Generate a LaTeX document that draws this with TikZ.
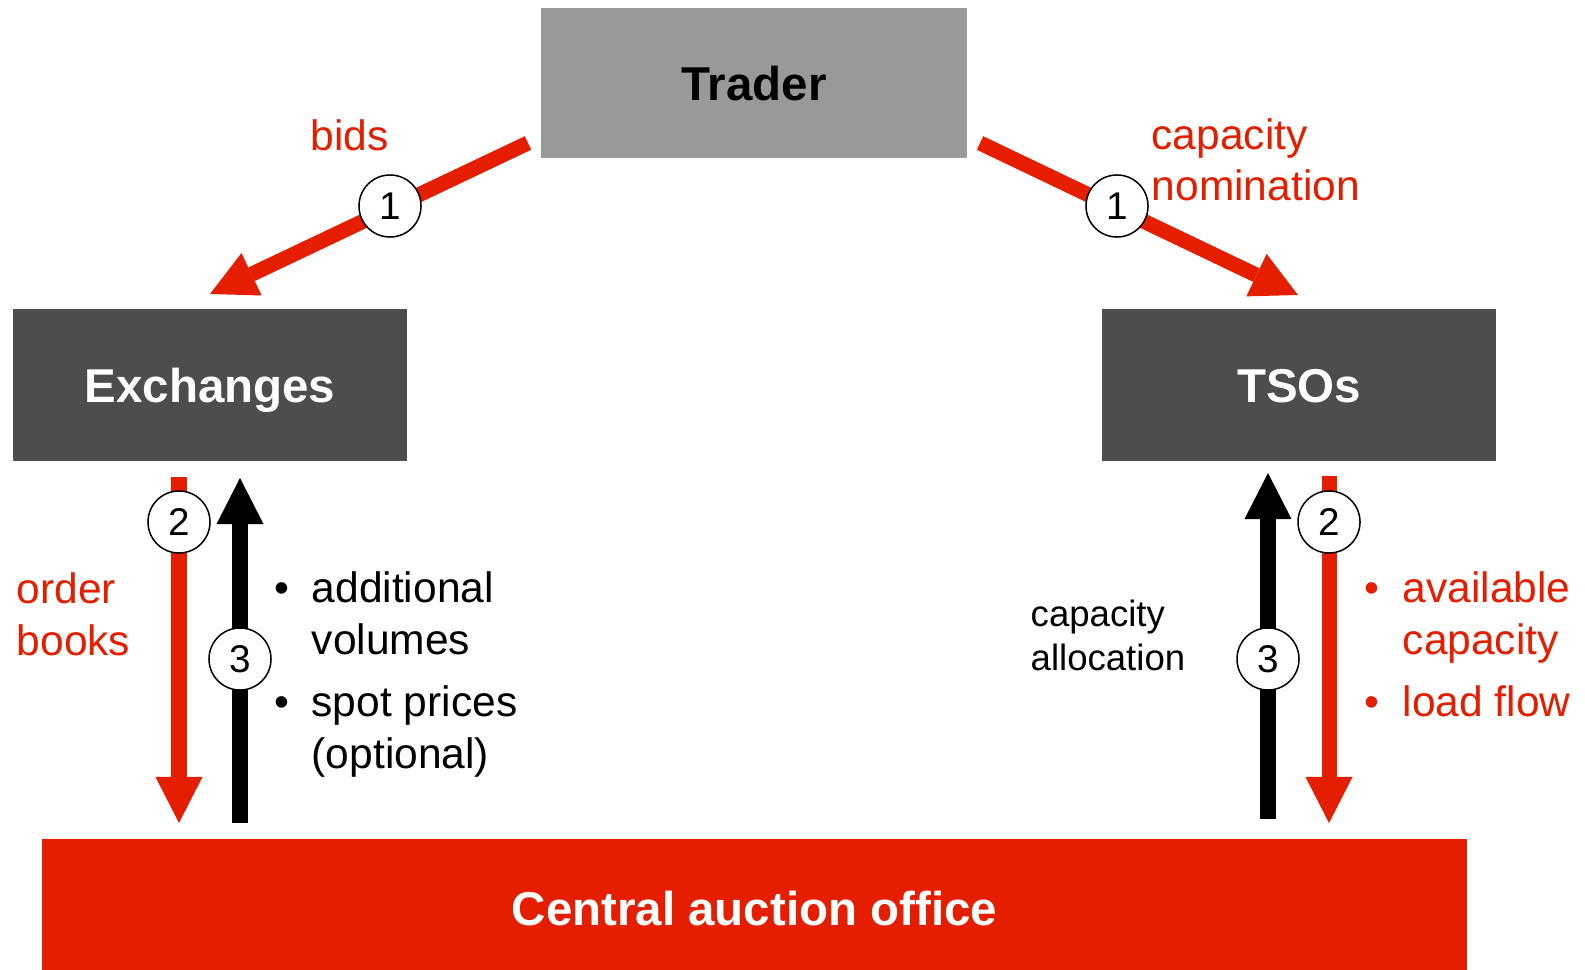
\documentclass[tikz,border=0pt]{standalone}
\usepackage{fontspec}
\setmainfont{Liberation Sans}
\usetikzlibrary{arrows.meta}
\definecolor{auctionred}{RGB}{230,30,0}
\definecolor{darkbox}{RGB}{77,77,77}
\definecolor{lightbox}{RGB}{153,153,153}
\begin{document}
\begin{tikzpicture}[x=0.01cm,y=-0.01cm,
  box/.style={rectangle, inner sep=0pt, font=\fontsize{13.5}{16}\selectfont\bfseries,
    text height=0.34cm, text depth=0pt},
  flow/.style={line width=0.15cm,
    -{Triangle[length=0.46cm,width=0.47cm,line width=0pt]}},
  redflow/.style={flow, draw=auctionred},
  blackflow/.style={flow, draw=black, line width=0.16cm},
  numc/.style={circle, draw=black, line width=0.015cm, fill=white,
    minimum size=0.62cm, inner sep=0pt, font=\fontsize{11}{12}\selectfont},
  % multi-line labels are anchored at the baseline of their last line
  lbl/.style={inner sep=0pt, align=left, anchor=base west,
    font=\fontsize{12.1}{14.7}\selectfont},
  smalllbl/.style={inner sep=0pt, align=left, anchor=base west,
    font=\fontsize{10.4}{12.4}\selectfont}
]
\useasboundingbox (0,0) rectangle (1585,970);

% participants
\node[box, fill=lightbox, minimum width=4.26cm, minimum height=1.50cm] (trader) at (754,83) {Trader};
\node[box, fill=darkbox, text=white, minimum width=3.94cm, minimum height=1.52cm] (exch) at (210,385) {Exchanges};
\node[box, fill=darkbox, text=white, minimum width=3.94cm, minimum height=1.52cm] (tso) at (1299,385) {TSOs};
\node[box, fill=auctionred, text=white, minimum width=14.25cm, minimum height=1.31cm, text height=0.42cm] (cao) at (754.5,904.5) {Central auction office};

% arrow end points
\coordinate (bidsFrom) at (528,143);
\coordinate (bidsTo) at (210,294);
\coordinate (nomFrom) at (980,143);
\coordinate (nomTo) at (1298,295);
\coordinate (ordTop) at (179,477);
\coordinate (ordBot) at (179,823);
\coordinate (volBot) at (240,823);
\coordinate (volTop) at (240,478);
\coordinate (allocBot) at (1268,819);
\coordinate (allocTop) at (1268,473);
\coordinate (avTop) at (1329,476);
\coordinate (avBot) at (1329,823);

% flows
\draw[redflow] (bidsFrom) -- (bidsTo);
\draw[redflow] (nomFrom) -- (nomTo);
\draw[redflow] (ordTop) -- (ordBot);
\draw[blackflow] (volBot) -- (volTop);
\draw[blackflow] (allocBot) -- (allocTop);
\draw[redflow] (avTop) -- (avBot);

% step numbers
\node[numc] (s1a) at (390,206) {1};
\node[numc] (s1b) at (1117,206) {1};
\node[numc] (s2a) at (179,522) {2};
\node[numc] (s3a) at (240,659) {3};
\node[numc] (s3b) at (1268,659) {3};
\node[numc] (s2b) at (1329,522) {2};

% labels
\node[lbl, text=auctionred] (tbids) at (310,150) {bids};
\node[lbl, text=auctionred] (tnom) at (1151,201) {capacity\\nomination};
\node[lbl, text=auctionred] (tord) at (16,655) {order\\books};
\node[lbl] (tvol) at (274,768) {\makebox[0.37cm][l]{•}additional\\\hspace*{0.37cm}volumes\\[0.10cm]\makebox[0.37cm][l]{•}spot prices\\\hspace*{0.37cm}(optional)};
\node[smalllbl] (talloc) at (1030,670) {capacity\\allocation};
\node[lbl, text=auctionred] (tavail) at (1364,716) {\makebox[0.38cm][l]{•}available\\\hspace*{0.38cm}capacity\\[0.10cm]\makebox[0.38cm][l]{•}load flow};
\end{tikzpicture}
\end{document}
